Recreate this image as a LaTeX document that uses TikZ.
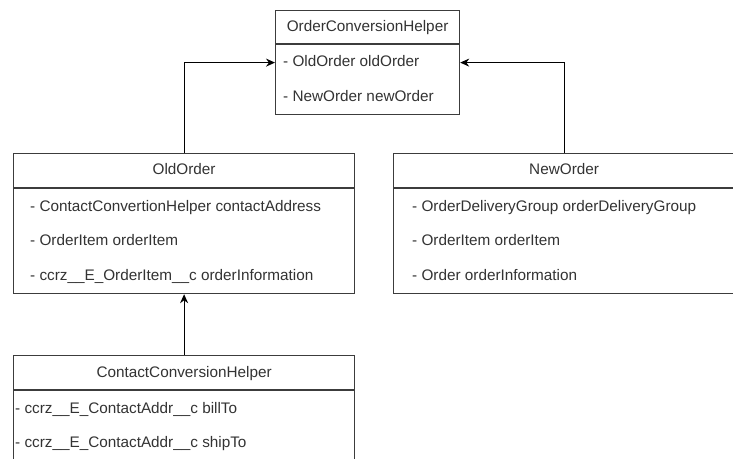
\documentclass[tikz,border=0pt]{standalone}
\usepackage{fontspec}
\setmainfont{Liberation Sans}
\usetikzlibrary{arrows.meta}
\definecolor{boxgray}{HTML}{3C3C3C}
\definecolor{textgray}{HTML}{333333}
\begin{document}
\begin{tikzpicture}[x=1pt,y=-1pt,
  box/.style={draw=boxgray,line width=1.2pt,inner sep=0pt,anchor=north west},
  divider/.style={draw=boxgray,line width=1.2pt},
  hdr/.style={font=\fontsize{15.3}{18}\selectfont,text=textgray,inner sep=0pt,text height=11pt,text depth=3pt},
  row/.style={hdr,anchor=west},
  conn/.style={draw=black,line width=1.2pt,-{Stealth[length=9pt,width=8pt]}}]
\useasboundingbox (0,0) rectangle (733,458);
\clip (0,0) rectangle (733,458);
\fill[white] (0,0) rectangle (733,458);

% OrderConversionHelper
\node[box,minimum width=184pt,minimum height=104pt] (och) at (275,10) {};
\draw[divider] ([yshift=-34pt]och.north west) -- ([yshift=-34pt]och.north east);
\node[hdr] (ochT) at ([yshift=-17pt]och.north) {OrderConversionHelper};
\node[row] (ochR1) at (283,62) {- OldOrder oldOrder};
\node[row] (ochR2) at (283,97) {- NewOrder newOrder};

% OldOrder
\node[box,minimum width=341pt,minimum height=140pt] (old) at (13,153) {};
\draw[divider] ([yshift=-35pt]old.north west) -- ([yshift=-35pt]old.north east);
\node[hdr] (oldT) at ([yshift=-17pt]old.north) {OldOrder};
\node[row] (oldR1) at (30,207) {- ContactConvertionHelper contactAddress};
\node[row] (oldR2) at (30,241) {- OrderItem orderItem};
\node[row] (oldR3) at (30,276) {- ccrz\_\_E\_OrderItem\_\_c orderInformation};

% NewOrder
\node[box,minimum width=341pt,minimum height=140pt] (new) at (393,153) {};
\draw[divider] ([yshift=-35pt]new.north west) -- ([yshift=-35pt]new.north east);
\node[hdr] (newT) at ([yshift=-17pt]new.north) {NewOrder};
\node[row] (newR1) at (412,207) {- OrderDeliveryGroup orderDeliveryGroup};
\node[row] (newR2) at (412,241) {- OrderItem orderItem};
\node[row] (newR3) at (412,276) {- Order orderInformation};

% ContactConversionHelper
\node[box,minimum width=341pt,minimum height=112pt] (cch) at (13,355) {};
\draw[divider] ([yshift=-35pt]cch.north west) -- ([yshift=-35pt]cch.north east);
\node[hdr] (cchT) at ([yshift=-18pt]cch.north) {ContactConversionHelper};
\node[row] (cchR1) at (15,409) {- ccrz\_\_E\_ContactAddr\_\_c billTo};
\node[row] (cchR2) at (15,443) {- ccrz\_\_E\_ContactAddr\_\_c shipTo};

% connectors
\draw[conn] (old.north) |- (och.west);
\draw[conn] (new.north) |- (och.east);
\draw[conn] (cch.north) -- (old.south);
\end{tikzpicture}
\end{document}
